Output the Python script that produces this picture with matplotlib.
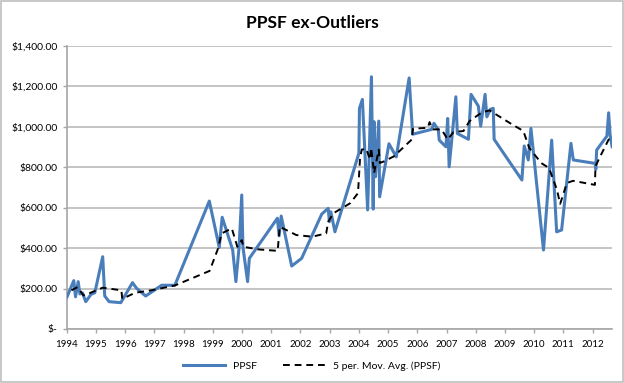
import numpy as np
import matplotlib as mpl
import matplotlib.pyplot as plt
from matplotlib.patches import Rectangle

plt.rcParams['font.family'] = ['Lato', 'DejaVu Sans']

### Data (decimal years)
ppsf_year = [1994.01, 1994.24, 1994.30, 1994.39, 1994.45, 1994.54, 1994.65, 1994.83, 1994.96,
             1995.23, 1995.30, 1995.45, 1995.85, 1996.25, 1996.39, 1996.70, 1997.25, 1997.70,
             1998.88, 1999.22, 1999.32, 1999.68, 1999.79, 1999.90, 1999.99, 2000.03, 2000.19,
             2000.25, 2001.21, 2001.27, 2001.34, 2001.70, 2002.04, 2002.73, 2002.95, 2002.99,
             2003.04, 2003.18, 2004.00, 2004.02, 2004.12, 2004.30, 2004.43, 2004.49, 2004.52,
             2004.57, 2004.68, 2004.71, 2005.03, 2005.28, 2005.72, 2005.84, 2006.49, 2006.57,
             2006.72, 2006.75, 2006.98, 2007.04, 2007.09, 2007.32, 2007.37, 2007.75, 2007.84,
             2008.09, 2008.17, 2008.32, 2008.38, 2008.50, 2008.60, 2008.63, 2009.58, 2009.66,
             2009.80, 2009.89, 2010.32, 2010.60, 2010.77, 2010.94, 2011.26, 2011.34, 2012.09,
             2012.11, 2012.14, 2012.49, 2012.55, 2012.60, 2012.67]
ppsf_value = [159, 239, 159, 234, 173, 178, 135, 171, 179,
              357, 163, 135, 130, 229, 201, 163, 216, 216,
              632, 403, 552, 390, 234, 406, 662, 406, 234,
              349, 547, 460, 558, 311, 349, 568, 596, 530,
              579, 480, 868, 1090, 1134, 588, 1246, 592, 1024,
              752, 1027, 653, 915, 850, 1240, 962, 986, 1016,
              983, 933, 900, 1040, 801, 1147, 966, 937, 1159,
              1101, 1002, 1159, 1048, 1085, 1090, 937, 736, 904,
              835, 991, 390, 933, 480, 489, 917, 835, 818,
              789, 884, 953, 1068, 958, 900]

ma_year = [1994.16, 1994.37, 1994.57, 1994.78, 1995.23, 1995.87, 1995.90, 1996.34, 1996.89,
           1997.70, 1998.89, 1999.18, 1999.30, 1999.65, 1999.84, 1999.99, 2000.05, 2000.57,
           2001.22, 2001.29, 2001.86, 2002.40, 2002.88, 2002.95, 2003.13, 2003.70, 2003.97,
           2004.04, 2004.10, 2004.25, 2004.38, 2004.42, 2004.52, 2004.68, 2004.72, 2004.86,
           2005.20, 2005.81, 2005.85, 2006.36, 2006.42, 2006.53, 2006.83, 2007.04, 2007.24,
           2007.58, 2007.79, 2008.20, 2008.47, 2009.15, 2009.63, 2009.83, 2010.24, 2010.51,
           2010.78, 2010.89, 2011.12, 2011.33, 2012.08, 2012.10, 2012.28, 2012.55, 2012.64]
ma_value = [191, 207, 166, 177, 204, 191, 149, 179, 191,
            215, 287, 398, 472, 497, 406, 439, 406, 393,
            386, 505, 464, 456, 472, 530, 572, 621, 671,
            845, 886, 891, 837, 895, 770, 886, 820, 828,
            853, 936, 989, 994, 1022, 986, 986, 936, 973,
            978, 1027, 1069, 1080, 1019, 978, 895, 820, 795,
            688, 618, 721, 732, 712, 804, 858, 936, 940]

year_ticks = list(range(1994, 2013))
value_ticks = [0, 200, 400, 600, 800, 1000, 1200, 1400]

def money(v):
    return "$-" if v == 0 else "${:,.2f}".format(v)

fig = plt.figure(figsize=(6.24, 3.83), dpi=100)
fig.patches.append(Rectangle((0.002, 0.003), 0.996, 0.994, transform=fig.transFigure,
                             fill=False, edgecolor="#BFBFBF", linewidth=1.2))
ax = fig.add_axes([0.107, 0.141, 0.874, 0.740])

ax.plot(ppsf_year, ppsf_value, color="#4A7EBB", linewidth=2.2, label="PPSF", zorder=3)
ax.plot(ma_year, ma_value, color="black", linewidth=1.4, linestyle=(0, (3.5, 2.5)),
        label="5 per. Mov. Avg. (PPSF)", zorder=4)

ax.set_xlim(1994, 2012.67)
ax.set_ylim(0, 1400)
ax.set_xticks(year_ticks)
ax.set_xticklabels([str(y) for y in year_ticks], fontsize=7)
ax.set_yticks(value_ticks)
ax.set_yticklabels([money(v) for v in value_ticks], fontsize=7.5)
ax.yaxis.grid(True, color="#BFBFBF", linewidth=1.3)
ax.set_axisbelow(True)
for s in ["top", "right"]:
    ax.spines[s].set_visible(False)
for s in ["left", "bottom"]:
    ax.spines[s].set_color("#A6A6A6")
    ax.spines[s].set_linewidth(1.2)
ax.tick_params(axis="both", colors="#A6A6A6", length=3, width=1, labelcolor="black")
ax.tick_params(axis="x", pad=5)

fig.text(0.5, 0.94, "PPSF ex-Outliers", ha="center", va="center", fontsize=12.5, fontweight="bold")
fig.legend(loc="center", bbox_to_anchor=(0.5, 0.045), ncol=2, frameon=False, fontsize=7.5,
           handlelength=4, columnspacing=2.5)

plt.savefig("out.png", dpi=100)
plt.close()
